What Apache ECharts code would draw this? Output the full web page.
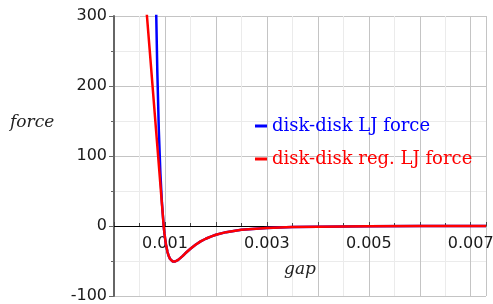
<!DOCTYPE html>
<html><head><meta charset="utf-8">
<script src="https://cdn.jsdelivr.net/npm/echarts@6/dist/echarts.min.js"></script>
<style>html,body{margin:0;padding:0;background:#fff}#c{width:493px;height:304px}</style>
</head><body><div id="c"></div>
<script>
// disk-disk LJ force (blue)
const ljGap   = [0.00082, 0.00083, 0.00085, 0.00088, 0.00091, 0.00094, 0.000975, 0.00099, 0.00101, 0.00102, 0.00105, 0.00107, 0.0011, 0.00113, 0.00115, 0.00118, 0.0012, 0.00125, 0.0013, 0.00135, 0.0014, 0.0015, 0.0016, 0.0017, 0.0018, 0.0019, 0.002, 0.0022, 0.0025, 0.003, 0.0035, 0.004, 0.005, 0.006, 0.0073];
const ljForce = [342, 297, 221, 136, 76, 34, 0, -10.6, -21.9, -26.5, -37.3, -42.1, -47.1, -49.8, -50.6, -51.1, -50.7, -48.8, -45.9, -42.7, -39.0, -32.5, -26.8, -22.0, -18.2, -15.1, -12.5, -8.8, -5.4, -2.7, -1.5, -0.9, -0.36, -0.17, -0.08];
// disk-disk regularized LJ force (red)
const regGap   = [0.00064, 0.0007, 0.0008, 0.00088, 0.00094, 0.000975, 0.00099, 0.00101, 0.00102, 0.00105, 0.00107, 0.0011, 0.00113, 0.00115, 0.00118, 0.0012, 0.00125, 0.0013, 0.00135, 0.0014, 0.0015, 0.0016, 0.0017, 0.0018, 0.0019, 0.002, 0.0022, 0.0025, 0.003, 0.0035, 0.004, 0.005, 0.006, 0.0073];
const regForce = [306, 252, 160, 87, 32, 0, -10.6, -21.9, -26.5, -37.3, -42.1, -47.1, -49.8, -50.6, -51.1, -50.7, -48.8, -45.9, -42.7, -39.0, -32.5, -26.8, -22.0, -18.2, -15.1, -12.5, -8.8, -5.4, -2.7, -1.5, -0.9, -0.36, -0.17, -0.08];
const xTickLabels = ['0.001', '0.003', '0.005', '0.007'];
const yTickLabels = ['-100', '0', '100', '200', '300'];
const seriesNames = ['disk-disk LJ force', 'disk-disk reg. LJ force'];
const seriesColors = ['#0000ff', '#ff0000'];

const chart = echarts.init(document.getElementById('c'), null, {renderer: 'canvas'});
const zip = (a, b) => a.map((v, i) => [v, b[i]]);
chart.setOption({
  animation: false,
  backgroundColor: '#fff',
  grid: {left: 114, right: 7, top: 16, bottom: 8, containLabel: false, outerBoundsMode: 'none'},
  legend: {
    orient: 'vertical', left: 250, top: 112, itemGap: 15,
    itemWidth: 12, itemHeight: 3, icon: 'rect',
    textStyle: {fontFamily: 'DejaVu Serif', fontSize: 18},
    data: seriesNames.map((n, i) => ({name: n, textStyle: {color: seriesColors[i]}}))
  },
  xAxis: {
    type: 'value', min: 0, max: 0.0073, interval: 0.001,
    position: 'bottom', offset: -70,
    name: 'gap', nameLocation: 'middle', nameGap: 35,
    nameTextStyle: {fontFamily: 'DejaVu Serif', fontStyle: 'italic', fontSize: 17, color: '#222'},
    axisLine: {onZero: false, lineStyle: {color: '#000', width: 1}},
    axisTick: {show: true, inside: true, length: 4, lineStyle: {color: '#444'}},
    minorTick: {show: true, splitNumber: 2, length: 3, lineStyle: {color: '#444'}},
    axisLabel: {
      margin: 10, fontFamily: 'DejaVu Sans', fontSize: 16, color: '#1a1a1a',
      formatter: v => { const s = v.toFixed(3); return xTickLabels.includes(s) ? s : ''; }
    },
    splitLine: {show: true, lineStyle: {color: '#c4c4c4', width: 1}},
    minorSplitLine: {show: true, lineStyle: {color: '#ebebeb', width: 1}}
  },
  yAxis: {
    type: 'value', min: -100, max: 300, interval: 100,
    axisLine: {show: true, onZero: false, lineStyle: {color: '#666', width: 2}},
    axisTick: {show: true, length: 5, lineStyle: {color: '#666'}},
    minorTick: {show: true, splitNumber: 2, length: 3, lineStyle: {color: '#666'}},
    axisLabel: {
      margin: 7, fontFamily: 'DejaVu Sans', fontSize: 16, color: '#1a1a1a',
      formatter: v => { const s = String(Math.round(v)); return yTickLabels.includes(s) ? s : ''; }
    },
    splitLine: {show: true, lineStyle: {color: '#c4c4c4', width: 1}},
    minorSplitLine: {show: true, lineStyle: {color: '#ebebeb', width: 1}}
  },
  graphic: [{
    type: 'text', left: 10, top: 114,
    style: {text: 'force', font: 'italic 17px "DejaVu Serif"', fill: '#222'}
  }],
  series: [
    {name: seriesNames[0], type: 'line', data: zip(ljGap, ljForce), showSymbol: false, symbol: 'none', smooth: false, clip: true,
     lineStyle: {color: seriesColors[0], width: 2.5}, itemStyle: {color: seriesColors[0]}},
    {name: seriesNames[1], type: 'line', data: zip(regGap, regForce), showSymbol: false, symbol: 'none', smooth: false, clip: true,
     lineStyle: {color: seriesColors[1], width: 2.5}, itemStyle: {color: seriesColors[1]}}
  ]
});
</script></body></html>
